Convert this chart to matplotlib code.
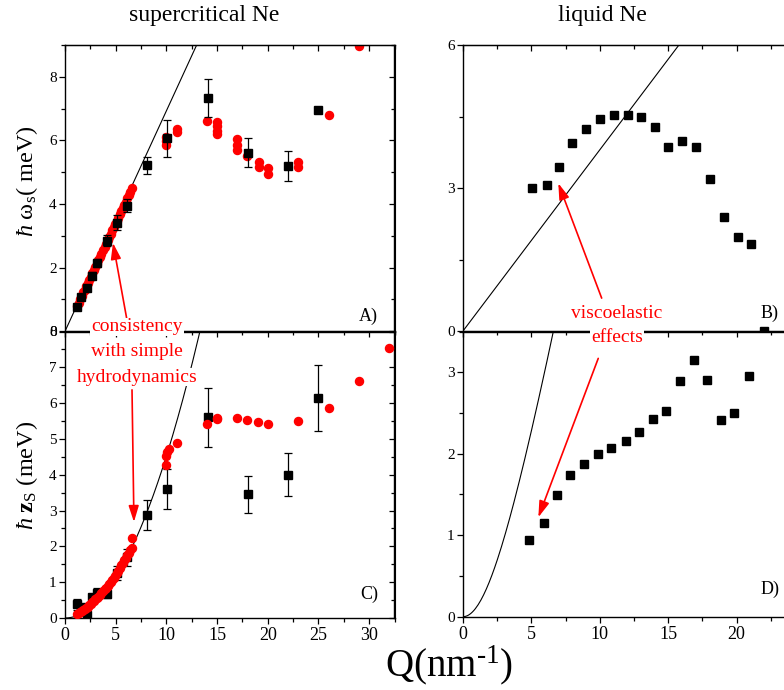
import numpy as np
import matplotlib
matplotlib.use("Agg")
import matplotlib.pyplot as plt
from matplotlib.ticker import MultipleLocator, FixedLocator

plt.rcParams['font.family'] = ['Liberation Serif', 'DejaVu Serif']
plt.rcParams['mathtext.fontset'] = 'custom'
plt.rcParams['mathtext.rm'] = 'Liberation Serif'
plt.rcParams['mathtext.it'] = 'Liberation Serif:italic'
plt.rcParams['mathtext.bf'] = 'Liberation Serif:bold'

# ---------------- supercritical Ne : experiment (squares) ----------------
q_exp = [1.15, 1.58, 2.14, 2.66, 3.12, 4.1, 5.1, 6.08, 8.09, 10.09, 14.1, 18.05, 22.0, 25.0]
omega_exp = [0.77, 1.09, 1.35, 1.75, 2.14, 2.85, 3.42, 3.95, 5.22, 6.07, 7.33, 5.62, 5.21, 6.97]
omega_err = [0.08, 0.08, 0.08, 0.10, 0.12, 0.17, 0.25, 0.20, 0.26, 0.58, 0.60, 0.47, 0.47, 0.0]
z_exp = [0.38, 0.30, 0.07, 0.60, 0.71, 0.67, 1.25, 1.69, 2.88, 3.60, 5.60, 3.45, 4.00, 6.14]
z_err = [0.15, 0.10, 0.10, 0.08, 0.12, 0.12, 0.20, 0.25, 0.42, 0.55, 0.83, 0.52, 0.60, 0.92]

# ---------------- supercritical Ne : simulation (red circles) ----------------
q_sim_omega = [1.2, 1.35, 1.5, 1.65, 1.8, 1.95, 2.1, 2.25, 2.4, 2.55, 2.7, 2.85, 3.0, 3.15,
               3.3, 3.45, 3.6, 3.75, 3.9, 4.05, 4.2, 4.35, 4.5, 4.65, 4.8, 4.95, 5.1, 5.25,
               5.4, 5.55, 5.7, 5.85, 6.0, 6.15, 6.3, 6.45, 6.6,
               10.0, 10.0, 10.0, 11.0, 11.0, 14.0, 15.0, 15.0, 15.0, 15.0, 17.0, 17.0, 17.0,
               18.0, 19.1, 19.1, 20.0, 20.0, 23.0, 23.0, 26.0, 29.0]
omega_sim = [0.80, 0.90, 1.01, 1.11, 1.22, 1.31, 1.42, 1.52, 1.62, 1.72, 1.83, 1.93, 2.03, 2.13,
             2.24, 2.34, 2.44, 2.55, 2.65, 2.76, 2.86, 2.96, 3.07, 3.17, 3.27, 3.37, 3.47, 3.57,
             3.68, 3.78, 3.88, 3.98, 4.08, 4.19, 4.29, 4.39, 4.50,
             6.10, 5.98, 5.85, 6.35, 6.28, 6.61, 6.59, 6.45, 6.30, 6.19, 6.04, 5.87, 5.70,
             5.51, 5.33, 5.15, 5.12, 4.95, 5.31, 5.18, 6.81, 8.98]

q_sim_z = [1.2, 1.35, 1.5, 1.65, 1.8, 1.95, 2.1, 2.25, 2.4, 2.55, 2.7, 2.85, 3.0, 3.15,
           3.3, 3.45, 3.6, 3.75, 3.9, 4.05, 4.2, 4.35, 4.5, 4.65, 4.8, 4.95, 5.1, 5.25,
           5.4, 5.55, 5.7, 5.85, 6.0, 6.15, 6.3, 6.45, 6.6, 6.57,
           9.95, 10.0, 10.05, 10.25, 11.05, 14.0, 15.0, 15.0, 17.0, 18.0, 19.07, 20.0,
           23.0, 26.0, 29.0, 32.0]
z_sim = [0.10, 0.13, 0.16, 0.19, 0.22, 0.25, 0.29, 0.32, 0.36, 0.40, 0.44, 0.48, 0.52, 0.56,
         0.60, 0.65, 0.70, 0.75, 0.80, 0.85, 0.90, 0.95, 1.00, 1.06, 1.12, 1.18, 1.25, 1.32,
         1.40, 1.47, 1.54, 1.61, 1.68, 1.75, 1.82, 1.89, 1.95, 2.23,
         4.27, 4.52, 4.64, 4.72, 4.88, 5.42, 5.55, 5.58, 5.58, 5.53, 5.46, 5.41,
         5.50, 5.87, 6.63, 7.53]

# ---------------- liquid Ne ----------------
q_liq_omega = [5.02, 6.12, 7.02, 7.97, 9.02, 10.04, 11.02, 12.04, 13.04, 14.07, 14.99,
               16.04, 17.04, 18.04, 19.06, 20.08, 21.08, 22.0]
omega_liq = [3.01, 3.06, 3.44, 3.94, 4.23, 4.45, 4.54, 4.54, 4.48, 4.29, 3.85,
             3.99, 3.85, 3.18, 2.39, 1.98, 1.82, 0.0]
q_liq_z = [4.85, 5.9, 6.85, 7.85, 8.87, 9.85, 10.82, 11.94, 12.89, 13.89, 14.87,
           15.85, 16.89, 17.84, 18.89, 19.84, 20.89]
z_liq = [0.94, 1.15, 1.49, 1.74, 1.88, 2.00, 2.07, 2.16, 2.27, 2.43, 2.52,
         2.89, 3.15, 2.91, 2.41, 2.50, 2.96]

# hydrodynamic model parameters
c_super = 0.693      # meV nm, linear sound dispersion (supercritical)
dt_super = 0.0452    # meV nm^2, diffusive damping (supercritical)
c_liq = 0.38         # meV nm, linear sound dispersion (liquid)
a_liq, b_liq = 3.3, 0.9

W, H = 784, 690
fig = plt.figure(figsize=(W / 100, H / 100), dpi=100)


def rect(x0, y0, x1, y1):
    return [x0 / W, 1 - y1 / H, (x1 - x0) / W, (y1 - y0) / H]


axA = fig.add_axes(rect(65, 45, 394.5, 331.3))
axC = fig.add_axes(rect(65, 331.5, 394.5, 618))
axB = fig.add_axes(rect(463, 45, 463 + 25 * 13.675, 331))
axD = fig.add_axes(rect(463, 331.5, 463 + 25 * 13.675, 616.7))


def style(ax, xmajor, xmin, ymaj, ymin, xlabels):
    ax.xaxis.set_major_locator(xmajor)
    ax.xaxis.set_minor_locator(MultipleLocator(xmin))
    ax.yaxis.set_major_locator(MultipleLocator(ymaj))
    ax.yaxis.set_minor_locator(MultipleLocator(ymin))
    ax.tick_params(which='both', direction='out', width=0.9, color='black')
    ax.tick_params(which='major', length=4.5)
    ax.tick_params(which='minor', length=3)
    ax.tick_params(axis='y', labelsize=11, pad=1.5)
    ax.tick_params(axis='x', labelsize=13, pad=2, labelbottom=xlabels)
    for s in ax.spines.values():
        s.set_linewidth(1.0)
    top = ax.secondary_xaxis('top')
    top.xaxis.set_major_locator(MultipleLocator(5))
    top.xaxis.set_minor_locator(MultipleLocator(xmin))
    top.tick_params(which='both', direction='in', labeltop=False, width=0.9)
    top.tick_params(which='major', length=4.5)
    top.tick_params(which='minor', length=3)
    right = ax.secondary_yaxis('right')
    right.yaxis.set_major_locator(MultipleLocator(ymaj))
    right.yaxis.set_minor_locator(MultipleLocator(ymin))
    right.tick_params(which='both', direction='in', labelright=False, width=0.9)
    right.tick_params(which='major', length=4.5)
    right.tick_params(which='minor', length=3)


sq = dict(marker='s', ms=5.6, color='black', ls='none')
rc = dict(marker='o', ms=5.8, color='red', ls='none', mec='red')

# A) supercritical frequency
qq = np.linspace(0, 14, 200)
axA.plot(qq, c_super * qq, color='black', lw=0.8, zorder=2)
axA.plot(q_sim_omega, omega_sim, zorder=2.5, **rc)
axA.errorbar(q_exp, omega_exp, yerr=omega_err, capsize=3, elinewidth=0.9,
             capthick=0.9, zorder=3, **sq)
axA.set_xlim(0, 32.5)
axA.set_ylim(0, 9)
style(axA, MultipleLocator(5), 2.5, 2, 1, False)
axA.text(0.95, 0.053, 'A)', transform=axA.transAxes, ha='right', va='center', fontsize=13)

# C) supercritical damping
axC.plot(qq, dt_super * qq ** 2, color='black', lw=0.8, zorder=2)
axC.errorbar(q_exp, z_exp, yerr=z_err, capsize=3, elinewidth=0.9,
             capthick=0.9, zorder=3, **sq)
axC.plot(q_sim_z, z_sim, zorder=3.5, **rc)
axC.set_xlim(0, 32.5)
axC.set_ylim(0, 8)
style(axC, MultipleLocator(5), 2.5, 1, 0.5, True)
axC.text(0.95, 0.084, 'C)', transform=axC.transAxes, ha='right', va='center', fontsize=13)

# B) liquid frequency
ql = np.linspace(0, 20, 200)
axB.plot(ql, c_liq * ql, color='black', lw=0.8, zorder=2)
axB.plot(q_liq_omega, omega_liq, clip_on=False, zorder=3, **sq)
axB.set_xlim(0, 25)
axB.set_ylim(0, 6)
style(axB, FixedLocator([0, 5, 10, 15, 20]), 2.5, 3, 1.5, False)
axB.text(21.77, 0.38, 'B)', ha='left', va='center', fontsize=13)

# D) liquid damping
axD.plot(ql, np.sqrt(a_liq ** 2 + (b_liq * ql) ** 2) - a_liq, color='black', lw=0.8, zorder=2)
axD.plot(q_liq_z, z_liq, zorder=3, **sq)
axD.set_xlim(0, 25)
axD.set_ylim(0, 3.5)
style(axD, FixedLocator([0, 5, 10, 15, 20]), 2.5, 1, 0.5, True)
axD.text(21.77, 0.33, 'D)', ha='left', va='center', fontsize=13)

# arrows
arr = dict(arrowstyle='-|>,head_length=0.7,head_width=0.22', color='red', lw=1.2,
           shrinkA=0, shrinkB=0, mutation_scale=14)
axA.annotate('', xy=(4.73, 2.78), xytext=(6.11, 0.36), arrowprops=arr, annotation_clip=False)
axC.annotate('', xy=(6.8, 2.68), xytext=(6.61, 6.37), arrowprops=arr, annotation_clip=False)
axB.annotate('', xy=(6.97, 3.10), xytext=(10.14, 0.69), arrowprops=arr, annotation_clip=False)
axD.annotate('', xy=(5.51, 1.22), xytext=(9.89, 3.17), arrowprops=arr, annotation_clip=False)

# red comment texts
box = dict(facecolor='white', edgecolor='none', pad=0.5)


def note(lines, xc, y0, dy):
    for i, s in enumerate(lines):
        fig.text(xc / W, 1 - (y0 + i * dy) / H, s, color='red', fontsize=14,
                 ha='center', va='center', bbox=box, zorder=10)


note(['consistency', 'with simple', 'hydrodynamics'], 137, 327, 25)
note(['viscoelastic', 'effects'], 617, 313, 24)

# titles and axis labels
fig.text(204 / W, 1 - 15 / H, 'supercritical Ne', fontsize=17, ha='center', va='center')
fig.text(602 / W, 1 - 15 / H, 'liquid Ne', fontsize=17, ha='center', va='center')
fig.text(27 / W, 1 - 181 / H, r'$\hbar\ \mathrm{ω}_{\mathrm{s}}$( meV)', rotation=90,
         fontsize=17.5, ha='center', va='center')
fig.text(27 / W, 1 - 475 / H, r'$\hbar\ \mathbf{z}_{\mathrm{S}}$ (meV)', rotation=90,
         fontsize=17.5, ha='center', va='center')
fig.text(449 / W, 1 - 665 / H, 'Q(nm$^{\u2010 1}$)', fontsize=28,
         ha='center', va='center')

fig.savefig('out.png', dpi=100)
